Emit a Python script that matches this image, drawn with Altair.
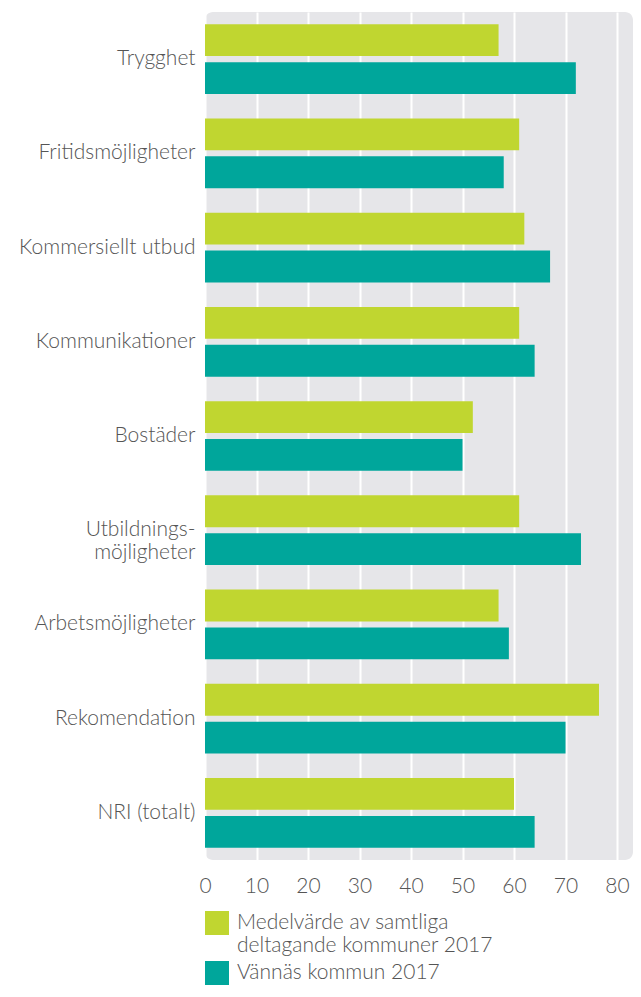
import altair as alt
import pandas as pd

categories = ["Trygghet", "Fritidsmöjligheter", "Kommersiellt utbud", "Kommunikationer",
              "Bostäder", "Utbildnings-|möjligheter", "Arbetsmöjligheter", "Rekomendation",
              "NRI (totalt)"]
series = ["Medelvärde av samtliga|deltagande kommuner 2017", "Vännäs kommun 2017"]
medel = [57, 61, 62, 61, 52, 61, 57, 76.5, 60]
vannas = [72, 58, 67, 64, 50, 73, 59, 70, 64]
colors = ["#c0d630", "#00a69b"]
ticks = [0, 10, 20, 30, 40, 50, 60, 70, 80]

rows = []
for c, m, v in zip(categories, medel, vannas):
    rows.append({"kategori": c, "serie": series[0], "varde": m})
    rows.append({"kategori": c, "serie": series[1], "varde": v})
df = pd.DataFrame(rows)

FONT = "Lato"
TXT = "#555555"

chart = alt.Chart(df).mark_bar().encode(
    y=alt.Y("kategori:N", sort=categories, title=None,
            scale=alt.Scale(paddingInner=0.26, paddingOuter=0.13),
            axis=alt.Axis(labelExpr="split(datum.label, '|')", labelFontSize=21,
                          labelFont=FONT, labelFontWeight=300, labelColor=TXT,
                          labelLineHeight=23, ticks=False, domain=False, grid=False,
                          labelPadding=10, minExtent=197, maxExtent=197, labelLimit=300)),
    yOffset=alt.YOffset("serie:N", sort=series, scale=alt.Scale(paddingInner=0.16, paddingOuter=0)),
    x=alt.X("varde:Q", title=None,
            scale=alt.Scale(domain=[0, 83.1], nice=False, zero=True),
            axis=alt.Axis(values=ticks, labelFontSize=21, labelFont=FONT, labelFontWeight=300,
                          labelColor=TXT, ticks=False, domain=False, grid=True,
                          gridColor="white", gridWidth=2, labelPadding=15, labelFlush=False)),
    color=alt.Color("serie:N", sort=series,
                    scale=alt.Scale(domain=series, range=colors),
                    legend=alt.Legend(orient="none", legendX=0, legendY=899, title=None,
                                      symbolType="square", symbolSize=576, symbolStrokeWidth=0,
                                      symbolOpacity=1,
                                      labelExpr="split(datum.label, '|')", labelFontSize=21,
                                      labelFont=FONT, labelFontWeight=300, labelColor=TXT,
                                      labelLimit=500, labelOffset=8, rowPadding=5,
                                      padding=0, direction="vertical")),
).properties(
    width=428, height=848,
    padding={"left": 0, "top": 4, "right": 0, "bottom": 0},
).configure_view(
    fill="#e6e6e9", stroke=None, cornerRadius=8
)

chart.save("out.html", embed_options={"renderer": "svg", "actions": False})
